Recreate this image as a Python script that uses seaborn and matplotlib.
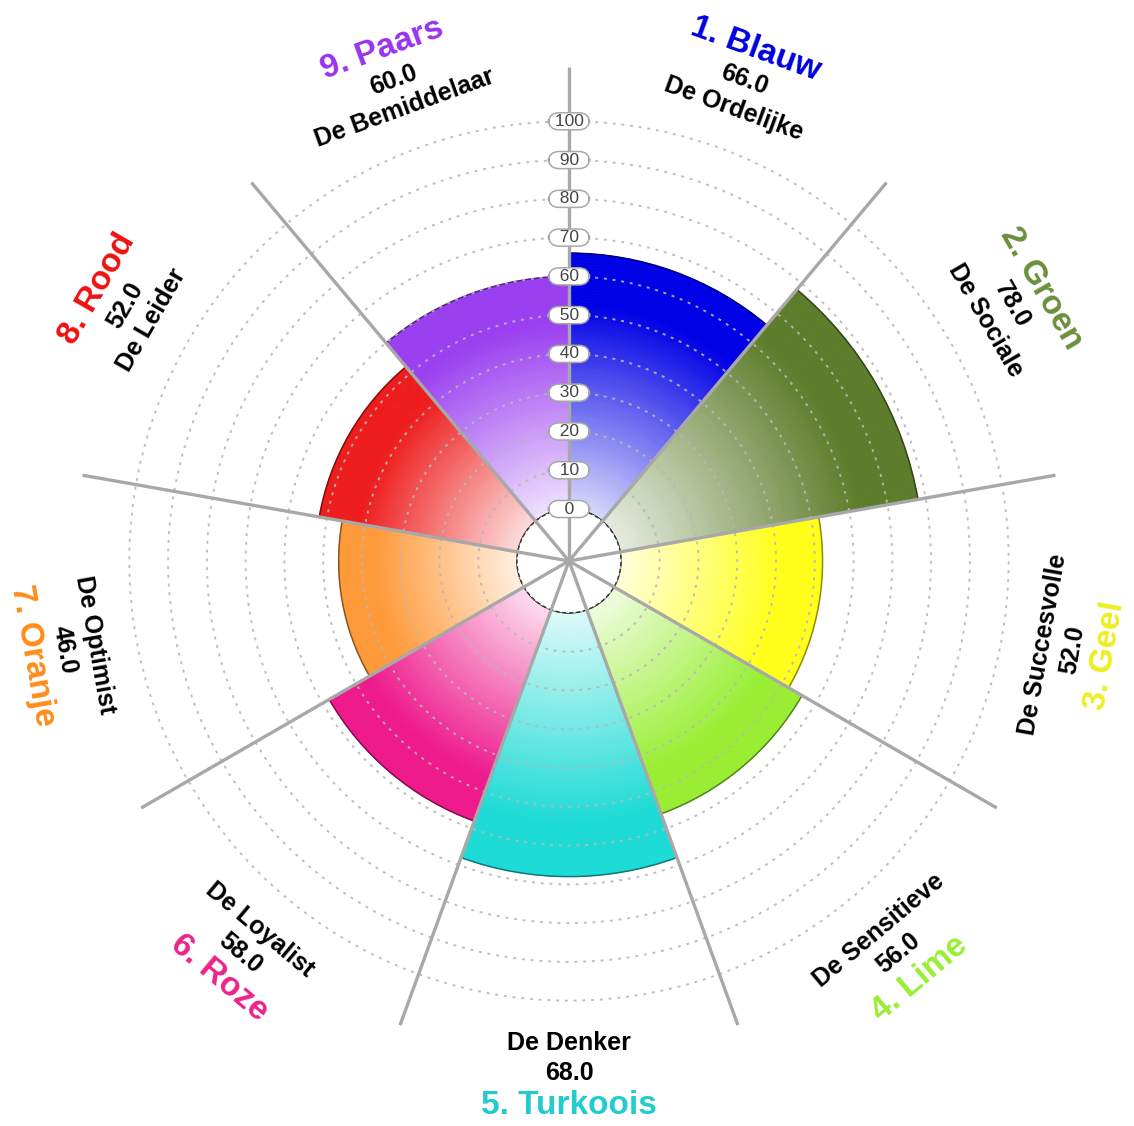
import numpy as np
import matplotlib.pyplot as plt
import matplotlib.colors as mcolors
import seaborn as sns

# Enneagram-like scores per colour type
types = ['Blauw', 'Groen', 'Geel', 'Lime', 'Turkoois', 'Roze', 'Oranje', 'Rood', 'Paars']
roles = ['De Ordelijke', 'De Sociale', 'De Succesvolle', 'De Sensitieve', 'De Denker',
         'De Loyalist', 'De Optimist', 'De Leider', 'De Bemiddelaar']
scores = [66.0, 78.0, 52.0, 56.0, 68.0, 58.0, 46.0, 52.0, 60.0]
fill_colors = ['#0000e6', '#5e7d2c', '#ffff1a', '#99ee33', '#1ddbd6',
               '#ee1a8c', '#ff9a3a', '#ee1c1c', '#9a3ff0']
title_colors = ['#0000dd', '#6a8f3c', '#eeee22', '#99ee33', '#22cccc',
                '#ee2288', '#ff8c1a', '#ee1111', '#9933ee']
ticks = list(range(0, 101, 10))

sns.set_style('white')
plt.rcParams['font.family'] = ['Liberation Sans', 'DejaVu Sans']

HOLE = 13.4   # inner white disc, in score units
RMAX = 114

fig = plt.figure(figsize=(11.34, 11.26), dpi=100)
ax = fig.add_axes([0.0661, 0.0631, 0.8713, 0.8774], projection='polar')
ax.set_theta_zero_location('N')
ax.set_theta_direction(-1)
ax.set_ylim(0, RMAX)
ax.set_rorigin(-HOLE)

n = len(scores)
width = 2 * np.pi / n
centers = np.arange(n) * width + width / 2

# radial gradient wedges
steps = 90
for i, (val, col) in enumerate(zip(scores, fill_colors)):
    shades = sns.blend_palette(['white', col], 101)
    edges = np.linspace(0, val, steps + 1)
    for r0, r1 in zip(edges[:-1], edges[1:]):
        frac = (r0 + r1) / 2 / val
        t = np.clip(0.15 + 0.85 * frac / 0.8, 0, 1)
        c = shades[int(round(t * 100))]
        ax.bar(centers[i], r1 - r0, bottom=r0, width=width, color=c,
               edgecolor=c, linewidth=0.6, zorder=1)
    dark = np.array(mcolors.to_rgb(col)) * 0.55
    ax.bar(centers[i], val, bottom=0, width=width, fill=False,
           edgecolor=dark, linewidth=1.1, zorder=1.5)

# dotted rings on top of the wedges
ax.set_yticks(ticks)
ax.set_yticklabels([])
ax.set_xticks([])
ax.yaxis.grid(True, color='#b8b8b8', linestyle=(0, (1.5, 3)), linewidth=1.4, alpha=0.9)
ax.xaxis.grid(False)
ax.set_axisbelow(False)
for sp in ax.spines.values():
    sp.set_visible(False)

# white hole in the middle with dashed border
ax.bar(np.pi, HOLE, bottom=-HOLE, width=2 * np.pi, color='white',
       edgecolor='#333333', linestyle=(0, (3, 2)), linewidth=1,
       clip_on=False, zorder=2.7)

# spokes between the sectors
for k in range(n):
    ax.plot([k * width, k * width], [-HOLE, RMAX], color='#a8a8a8', lw=2.4,
            solid_capstyle='butt', clip_on=False, zorder=3)

# boxed radial tick labels on the top spoke (padded to equal width)
for v in ticks:
    lab = str(v)
    side = ' ' * (4 - len(lab))
    ax.text(0, v, side + lab + side, color='#444444', fontsize=12.5,
            ha='center', va='center',
            bbox=dict(boxstyle='round,pad=0.06,rounding_size=0.6', fc='white',
                      ec='#a8a8a8', lw=1.1), zorder=5)

# labels around the circle
for i in range(n):
    th = centers[i]
    deg = np.degrees(th)
    rot = -deg
    if 90 < deg < 270:
        rot += 180
    kw = dict(rotation=rot, rotation_mode='anchor', ha='center', va='center',
              fontweight='bold', clip_on=False)
    ax.text(th, 110.8, roles[i], fontsize=18, color='black', **kw)
    ax.text(th, 118.6, f'{scores[i]:.1f}', fontsize=18, color='black', **kw)
    ax.text(th, 127.1, f'{i + 1}. {types[i]}', fontsize=24, color=title_colors[i], **kw)

fig.savefig('out.png', dpi=100)
